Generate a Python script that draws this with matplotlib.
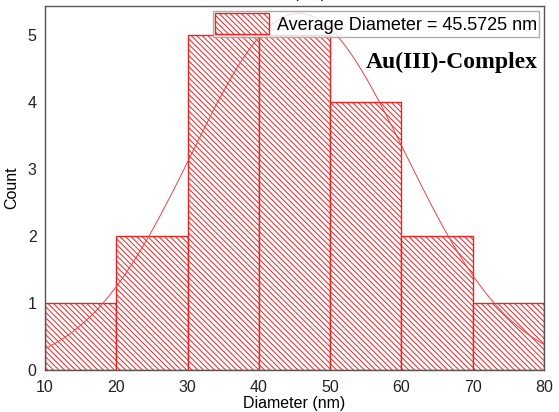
import numpy as np
import matplotlib
matplotlib.use("Agg")
import matplotlib.pyplot as plt

# Histogram of particle diameters
bin_edges = [10, 20, 30, 40, 50, 60, 70, 80]
counts = [1, 2, 5, 5, 4, 2, 1]

# fitted normal curve
mean_d = 45.5725
std_d = 15.0
n_total = 20

plt.rcParams["font.family"] = ["Liberation Sans", "DejaVu Sans"]
plt.rcParams["hatch.color"] = "#f05050"
plt.rcParams["hatch.linewidth"] = 0.7

fig = plt.figure(figsize=(5.59, 4.12), dpi=100)
ax = fig.add_axes([45 / 559, 1 - 370 / 412, 499 / 559, 364 / 412])

lefts = np.array(bin_edges[:-1])
widths = np.diff(bin_edges)
ax.bar(lefts, counts, width=widths, align="edge", facecolor="white",
       edgecolor="#ee2222", linewidth=1.0, hatch="\\" * 6,
       label="Average Diameter = 45.5725 nm")

x = np.linspace(10, 80, 300)
bw = widths[0]
y = n_total * bw / (std_d * np.sqrt(2 * np.pi)) * np.exp(-0.5 * ((x - mean_d) / std_d) ** 2)
ax.plot(x, y, color="#f04040", linewidth=0.7)

ax.set_xlim(10, 80)
ax.set_ylim(0, 5.43)
ax.set_xticks(range(10, 81, 10))
ax.set_yticks(range(0, 6))
ax.tick_params(axis="both", direction="in", length=0, labelsize=11.5, colors="#222222")
ax.tick_params(axis="x", pad=7)
ax.tick_params(axis="y", pad=6)
for sp in ax.spines.values():
    sp.set_color("#555555")
    sp.set_linewidth(1.0)

ax.set_xlabel("Diameter (nm)", fontsize=11.5, labelpad=1)
ax.set_ylabel("Count", fontsize=11.5, labelpad=6)

leg = ax.legend(loc="upper right", fontsize=13, frameon=True, fancybox=False,
                edgecolor="#999999", handlelength=3.0, handleheight=1.4,
                borderaxespad=0.25, borderpad=0.15, handletextpad=0.4)
leg.get_frame().set_linewidth(1.0)

ax.text(0.987, 0.845, "Au(III)-Complex", transform=ax.transAxes, ha="right",
        va="center", fontsize=17, fontweight="bold", family="Liberation Serif")

# title clipped at the top of the image
fig.text(275 / 559, 1 + 2 / 412, "Diameter (nm)", ha="center", va="baseline", fontsize=11.5)

fig.savefig("out.png", dpi=100)
